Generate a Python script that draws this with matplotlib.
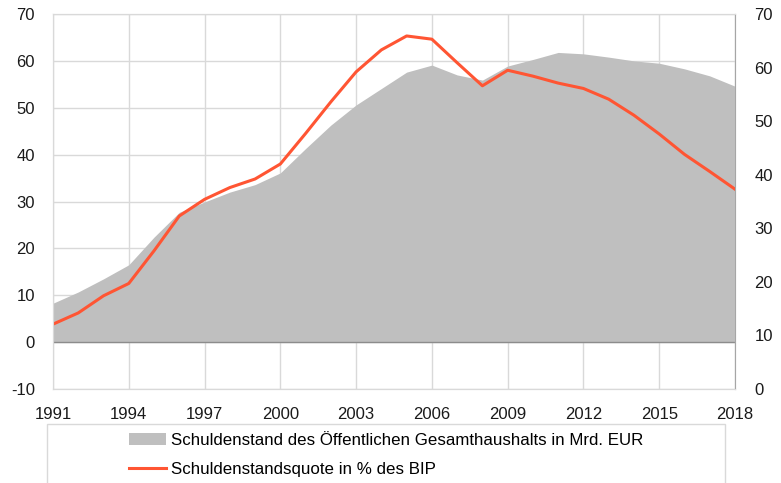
import numpy as np
import matplotlib.pyplot as plt
from matplotlib.patches import Rectangle

plt.rcParams['font.family'] = ['Liberation Sans', 'DejaVu Sans']
plt.rcParams['axes.unicode_minus'] = False

# Daten
jahre = list(range(1991, 2019))
schuldenstand = [8.3, 10.7, 13.5, 16.5, 22.4, 27.7, 29.9, 32.0, 33.6, 36.1,
                 41.3, 46.3, 50.6, 54.1, 57.6, 59.1, 57.0, 55.9, 58.9, 60.3,
                 61.8, 61.5, 60.8, 60.0, 59.5, 58.3, 56.8, 54.6]
quote = [12.1, 14.2, 17.4, 19.7, 25.8, 32.3, 35.4, 37.6, 39.2, 42.0,
         47.7, 53.6, 59.2, 63.3, 65.9, 65.3, 60.9, 56.6, 59.5, 58.4,
         57.1, 56.1, 54.1, 51.1, 47.6, 43.8, 40.6, 37.3]
xticks = list(range(1991, 2019, 3))

label_fill = 'Schuldenstand des Öffentlichen Gesamthaushalts in Mrd. EUR'
label_line = 'Schuldenstandsquote in % des BIP'

fig = plt.figure(figsize=(7.81, 4.83), dpi=100)
ax = fig.add_axes([53 / 781, 1 - 389 / 483, 682 / 781, 375 / 483])
ax2 = ax.twinx()

ax.set_axisbelow(True)
ax.grid(True, color='#d9d9d9', lw=1)
fill = ax.fill_between(jahre, 0, schuldenstand, color='#bfbfbf', lw=0)
ax.axhline(0, color='#8c8c8c', lw=1)
line, = ax2.plot(jahre, quote, color='#ff5533', lw=2.2)

ax.set_xlim(1991, 2018)
ax.set_ylim(-10, 70)
ax.set_yticks(range(-10, 71, 10))
ax.set_xticks(xticks)
ax2.set_ylim(0, 70)
ax2.set_yticks(range(0, 71, 10))

for a in (ax, ax2):
    for s in a.spines.values():
        s.set_color('#d9d9d9')
    a.tick_params(length=0, labelsize=12, colors='#1a1a1a')
ax2.spines['right'].set_color('#a6a6a6')
ax.tick_params(axis='y', pad=13)
ax.tick_params(axis='x', pad=13)
ax2.tick_params(axis='y', pad=14)

# Legendenrahmen
fig.patches.append(Rectangle((47 / 781, -0.05), 678 / 781, 0.05 + 1 - 424 / 483,
                             transform=fig.transFigure, fill=False,
                             edgecolor='#d9d9d9', lw=1))
leg = fig.legend([fill, line], [label_fill, label_line], loc='upper left',
                 bbox_to_anchor=(129 / 781, 1 - 433 / 483), frameon=False,
                 fontsize=12.2, handlelength=2.2, handleheight=0.7,
                 handletextpad=0.25, labelspacing=0.85, borderpad=0,
                 borderaxespad=0)

fig.savefig('out.png', dpi=100)
